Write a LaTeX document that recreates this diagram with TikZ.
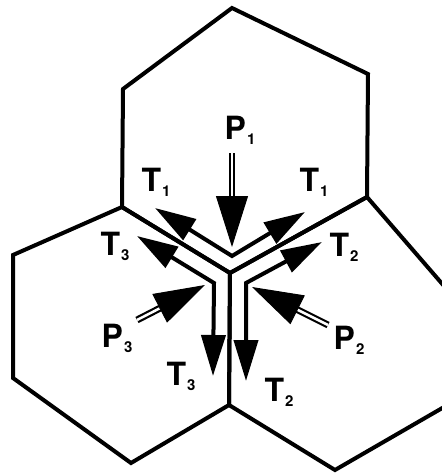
\documentclass[tikz,border=0pt]{standalone}
\usepackage{fontspec}
\setmainfont{TeX Gyre Heros}
\usetikzlibrary{arrows.meta,calc}

\newcommand{\force}[2]{#1\kern1pt\raisebox{-5pt}{\fontsize{15}{15}\selectfont #2}}

\begin{document}
\begin{tikzpicture}[
		x=1pt, y=-1pt,
		cellwall/.style={line width=4pt},
		wallpull/.style={line width=4pt, {Triangle[length=41pt,width=24pt]}-{Triangle[length=41pt,width=24pt]}},
		pressure/.style={double, double distance=2.5pt, line width=2.2pt},
		phead/.style={line width=1pt, -{Triangle[length=51pt,width=32pt]}},
		lab/.style={font=\fontsize{32}{32}\selectfont\bfseries, inner sep=0pt}
		]
		\useasboundingbox (0,0) rectangle (442,475);
		\clip (0,0) rectangle (442,475);
		% cells
		\draw[cellwall] (232,8) -- (368,74) -- (367,197) -- (230,273) -- (122,207) -- (123,89) -- cycle;
		\draw[cellwall] (122,207) -- (230,273) -- (229,405) -- (131,463) -- (13,378) -- (13,255) -- cycle;
		\draw[cellwall] (367,197) -- (470,316) -- (470,392) -- (335,470) -- (229,405) -- (230,273) -- cycle;
		% tensions along the walls
		\coordinate (t1l) at (155,208);
		\coordinate (t1c) at (232,256);
		\coordinate (t1r) at (305,212);
		\coordinate (t3l) at (137,236);
		\coordinate (t3c) at (214,283);
		\coordinate (t3d) at (213,376);
		\coordinate (t2r) at (322,242);
		\coordinate (t2c) at (246,283);
		\coordinate (t2d) at (246,381);
		\draw[wallpull] (t1l) -- (t1c) -- (t1r);
		\draw[wallpull] (t3l) -- (t3c) -- (t3d);
		\draw[wallpull] (t2r) -- (t2c) -- (t2d);
		% pressures
		\coordinate (p1s) at (232,153);
		\coordinate (p1t) at (232,247);
		\coordinate (p3s) at (137,320);
		\coordinate (p3t) at (205,285);
		\coordinate (p2s) at (328,325);
		\coordinate (p2t) at (252,287);
		\foreach \p in {p1,p2,p3}{
			\draw[pressure] (\p s) -- ($(\p t)!49pt!(\p s)$);
			\draw[phead] ($(\p t)!51pt!(\p s)$) -- (\p t);
		}
		% labels
		\node[lab] (lp1) at (240,130) {\force{P}{1}};
		\node[lab] (lp2) at (349,340) {\force{P}{2}};
		\node[lab] (lp3) at (117,338) {\force{P}{3}};
		\node[lab] (lt1l) at (156,182) {\force{T}{1}};
		\node[lab] (lt1r) at (314,182) {\force{T}{1}};
		\node[lab] (lt3u) at (115,246) {\force{T}{3}};
		\node[lab] (lt2u) at (344,247) {\force{T}{2}};
		\node[lab] (lt3d) at (181,376) {\force{T}{3}};
		\node[lab] (lt2d) at (279,392) {\force{T}{2}};
	\end{tikzpicture}
\end{document}
